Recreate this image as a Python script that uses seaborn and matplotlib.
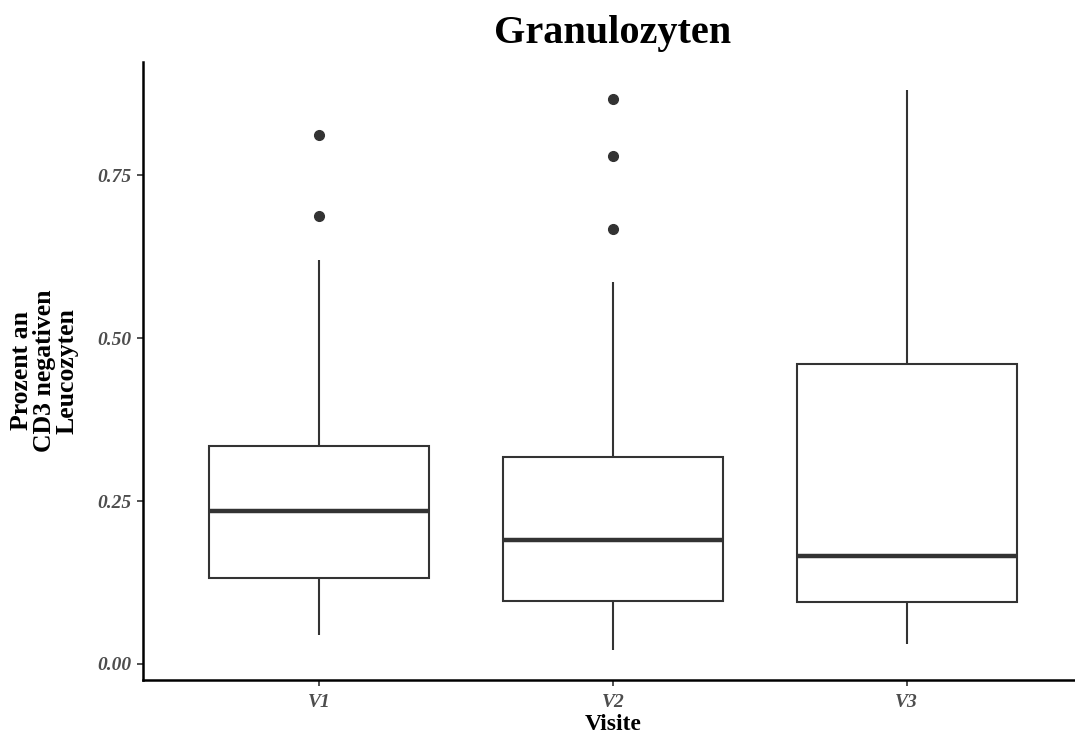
import matplotlib
matplotlib.use("Agg")
import matplotlib.pyplot as plt
import numpy as np
import pandas as pd
import seaborn as sns

# Observations per visit (share of CD3-negative leukocytes that are granulocytes)
visits = ["V1", "V2", "V3"]
v1_values = [0.044, 0.080, 0.110, 0.132, 0.170, 0.210, 0.235, 0.270, 0.300, 0.335,
             0.620, 0.687, 0.812]
v2_values = [0.022, 0.050, 0.070, 0.085, 0.097, 0.120, 0.150, 0.170, 0.190, 0.220,
             0.250, 0.290, 0.318, 0.586, 0.668, 0.780, 0.867]
v3_values = [0.031, 0.070, 0.095, 0.130, 0.165, 0.300, 0.461, 0.600, 0.881]
y_ticks = [0.00, 0.25, 0.50, 0.75]

df = pd.DataFrame({
    "Visite": (["V1"] * len(v1_values) + ["V2"] * len(v2_values)
               + ["V3"] * len(v3_values)),
    "Anteil": v1_values + v2_values + v3_values,
})

sns.set_theme(style="ticks")
plt.rcParams["font.family"] = ["Liberation Serif", "DejaVu Serif"]

fig = plt.figure(figsize=(10.75, 7.38), dpi=100)
ax = fig.add_axes([0.1330, 0.0786, 0.8744, 0.8374])

line_col = "#333333"
sns.boxplot(
    data=df, x="Visite", y="Anteil", order=visits, ax=ax,
    width=0.75, color="white", linecolor=line_col, linewidth=1.5,
    showcaps=False, whis=1.5,
    boxprops=dict(facecolor="white", edgecolor=line_col, linewidth=1.5),
    whiskerprops=dict(color=line_col, linewidth=1.5),
    medianprops=dict(color=line_col, linewidth=3.2),
    flierprops=dict(marker="o", markersize=7, markerfacecolor=line_col,
                    markeredgecolor=line_col),
)

ax.set_xlim(-0.6, 2.6)
ax.set_ylim(-0.0246, 0.924)
ax.set_yticks(y_ticks)
ax.set_yticklabels([f"{t:.2f}" for t in y_ticks])

for lab in ax.get_xticklabels() + ax.get_yticklabels():
    lab.set_fontstyle("italic")
    lab.set_fontweight("bold")
    lab.set_color("#4d4d4d")
    lab.set_fontsize(14)

ax.tick_params(axis="both", length=4, width=1.2, color="#333333", pad=4)
ax.tick_params(axis="x", pad=6)

for side in ["top", "right"]:
    ax.spines[side].set_visible(False)
for side in ["left", "bottom"]:
    ax.spines[side].set_color("black")
    ax.spines[side].set_linewidth(1.8)

ax.set_xlabel("Visite", fontsize=17, fontweight="bold", color="black", labelpad=2)
ax.set_ylabel("Prozent an\nCD3 negativen\nLeucozyten", fontsize=18.5,
              fontweight="bold", color="black", labelpad=14, linespacing=0.97)
ax.set_title("Granulozyten", fontsize=29, fontweight="bold", color="black", pad=14)

fig.savefig("out.png", dpi=100)
